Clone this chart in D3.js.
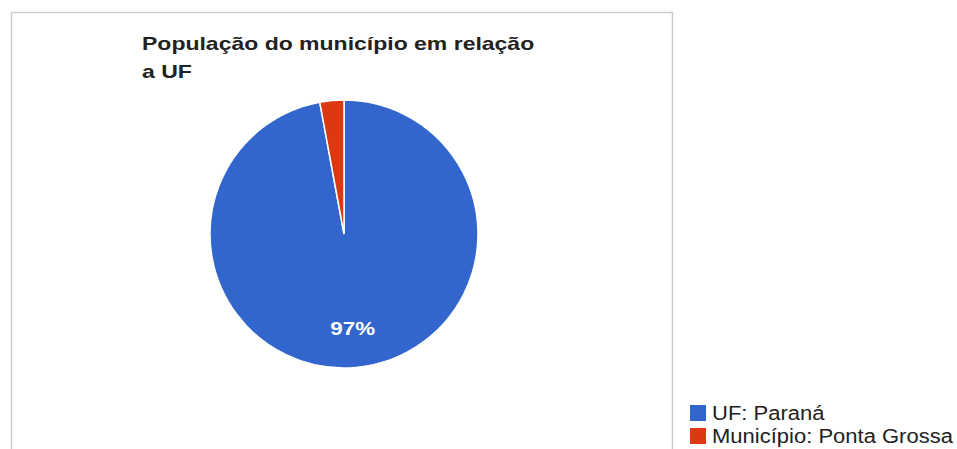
<!doctype html>
<html>
<head>
<meta charset="utf-8">
<style>
  body { margin:0; background:#fff; }
  svg { display:block; font-family:"Liberation Sans", Arial, sans-serif; }
</style>
<script src="https://d3js.org/d3.v7.min.js"></script>
</head>
<body>
<svg id="chart" width="957" height="449"></svg>
<script>
// dados
var categorias = ["UF: Paraná", "Município: Ponta Grossa"]
var populacao = [10444526, 311611]
var cores = ["#3366cc", "#dc3912"]
var titulo = ["População do município em relação", "a UF"]

var svg = d3.select("#chart")

// o print original esta esticado na horizontal
function esticar(sel, fator) {
  sel.each(function() {
    var w = this.getComputedTextLength()
    d3.select(this).attr("textLength", w * fator).attr("lengthAdjust", "spacingAndGlyphs")
  })
}

// moldura
svg.append("rect")
  .attr("x", 11.5).attr("y", 12.5)
  .attr("width", 661).attr("height", 460)
  .style("fill", "none").style("stroke", "#cccccc").style("stroke-width", 1.5)

// titulo
svg.selectAll("text.titulo")
  .data(titulo).enter()
  .append("text")
  .attr("class", "titulo")
  .attr("x", 142)
  .attr("y", function(d, i) { return 50 + i * 28 })
  .style("font-size", "19px").style("font-weight", "bold").style("fill", "#222")
  .text(function(d) { return d })
  .call(esticar, 1.21)

// pizza
var cx = 344, cy = 234, raio = 134
var total = d3.sum(populacao)
var pie = d3.pie().sort(null)
var arc = d3.arc().innerRadius(0).outerRadius(raio)
var g = svg.append("g").attr("transform", "translate(" + cx + "," + cy + ")")

g.selectAll("path")
  .data(pie(populacao)).enter()
  .append("path")
  .attr("d", arc)
  .style("fill", function(d, i) { return cores[i] })
  .style("stroke", "#fff").style("stroke-width", 1.5)

// rotulo percentual (so fatias grandes)
var arcLabel = d3.arc().innerRadius(raio * 0.71).outerRadius(raio * 0.71)
g.selectAll("text")
  .data(pie(populacao).filter(function(d) { return d.value / total > 0.05 })).enter()
  .append("text")
  .attr("transform", function(d) { return "translate(" + arcLabel.centroid(d) + ")" })
  .attr("text-anchor", "middle").attr("dy", "0.35em")
  .style("fill", "#fff").style("font-size", "18px").style("font-weight", "bold")
  .text(function(d) { return Math.round(d.value / total * 100) + "%" })
  .call(esticar, 1.24)

// legenda
var leg = svg.selectAll("g.leg")
  .data(categorias).enter()
  .append("g").attr("class", "leg")
  .attr("transform", function(d, i) { return "translate(690," + (405 + i * 23) + ")" })
leg.append("rect").attr("width", 16).attr("height", 16)
  .style("fill", function(d, i) { return cores[i] })
leg.append("text").attr("x", 22).attr("y", 15)
  .style("font-size", "20px").style("fill", "#222")
  .text(function(d) { return d })
  .call(esticar, 1.1)
</script>
</body>
</html>
